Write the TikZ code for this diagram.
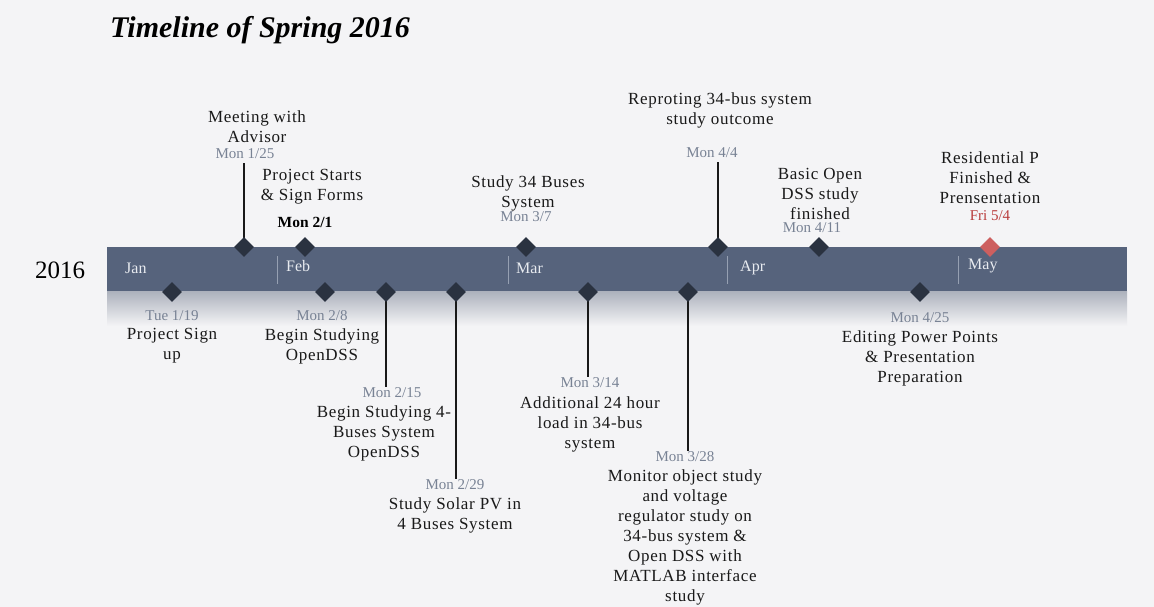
\documentclass[tikz,border=0pt]{standalone}
\usepackage{fontspec}
\setmainfont{Liberation Serif}
\newfontfamily\lblfont[LetterSpace=4]{Liberation Serif}
\usetikzlibrary{shapes.geometric}
\definecolor{bg}{RGB}{244,244,246}
\definecolor{barc}{RGB}{86,99,124}
\definecolor{shad}{RGB}{172,177,188}
\definecolor{dia}{RGB}{42,50,64}
\definecolor{datec}{RGB}{120,130,148}
\definecolor{txt}{RGB}{25,25,25}
\definecolor{redd}{RGB}{205,95,95}
\definecolor{redt}{RGB}{185,60,60}
\definecolor{monc}{RGB}{232,235,240}
\definecolor{sepc}{RGB}{150,160,178}
\begin{document}
\begin{tikzpicture}[x=1pt,y=-1pt,
 lbl/.style={align=center,font=\lblfont\fontsize{17}{20}\selectfont,text=txt,inner sep=0pt},
 dt/.style={font=\fontsize{15}{18}\selectfont,text=datec,inner sep=1pt},
 mk/.style={diamond,fill=dia,minimum width=20pt,minimum height=20pt,inner sep=0pt},
 conn/.style={draw=txt,line width=1.8pt},
 mon/.style={font=\fontsize{16}{19}\selectfont,text=monc,anchor=west,inner sep=0pt},
 msep/.style={draw=sepc,line width=0.8pt}]
\fill[bg] (0,0) rectangle (1154,607);
\useasboundingbox (0,0) rectangle (1154,607);

\node[font=\fontsize{30}{34}\selectfont\bfseries\itshape,anchor=west,text=black,inner sep=0pt] (title) at (110,30) {Timeline of Spring 2016};
\node[font=\fontsize{25}{30}\selectfont,text=black] (year) at (60,270) {2016};

% bar and shadow
\shade[top color=shad,bottom color=bg] (107,291) rectangle (1127,326);
\node[fill=barc,minimum width=1020pt,minimum height=44pt,inner sep=0pt] (bar) at (617,269) {};

% months
\node[mon] (jan) at (125,268) {Jan};
\node[mon] (feb) at (286,266) {Feb};
\node[mon] (mar) at (516,268) {Mar};
\node[mon] (apr) at (740,268) {Apr};
\node[mon] (may) at (968,266) {May};
\draw[msep] (277,256) -- (277,284);
\draw[msep] (508,256) -- (508,284);
\draw[msep] (727,256) -- (727,284);
\draw[msep] (958,256) -- (958,284);

% event positions
\coordinate (c125) at (244,247);
\coordinate (c201) at (305,247);
\coordinate (c307) at (526,247);
\coordinate (c404) at (718,247);
\coordinate (c411) at (819,247);
\coordinate (c504) at (990,247);
\coordinate (c119) at (172,292);
\coordinate (c208) at (325,292);
\coordinate (c215) at (386,292);
\coordinate (c229) at (456,292);
\coordinate (c314) at (588,292);
\coordinate (c328) at (688,292);
\coordinate (c425) at (920,292);

% upper labels
\node[lbl] (t125) at (257,127) {Meeting with\\Advisor};
\node[dt] (d125) at (245,154) {Mon 1/25};
\node[lbl] (t201) at (312,187) {Project Starts\\\& Sign Forms};
\node[dt,text=black,font=\fontsize{15.5}{18}\selectfont\bfseries] (d201) at (305,222) {Mon 2/1};
\node[lbl] (t307) at (528,193) {Study 34 Buses\\System};
\node[dt] (d307) at (526,217) {Mon 3/7};
\node[lbl] (t404) at (720,110) {Reproting 34-bus system\\study outcome};
\node[dt] (d404) at (712,153) {Mon 4/4};
\node[lbl] (t411) at (820,194) {Basic Open\\DSS study\\finished};
\node[dt] (d411) at (812,228) {Mon 4/11};
\node[lbl] (t504) at (990,178) {Residential P\\Finished \&\\Prensentation};
\node[dt,text=redt] (d504) at (990,216) {Fri 5/4};

% lower labels
\node[dt] (d119) at (172,316) {Tue 1/19};
\node[lbl] (t119) at (172,346) {Project Sign\\up};
\node[dt] (d208) at (322,316) {Mon 2/8};
\node[lbl] (t208) at (322,346) {Begin Studying\\OpenDSS};
\node[dt] (d215) at (392,393) {Mon 2/15};
\node[lbl] (t215) at (384,433) {Begin Studying 4-\\Buses System\\OpenDSS};
\node[dt] (d229) at (455,485) {Mon 2/29};
\node[lbl] (t229) at (455,515) {Study Solar PV in\\4 Buses System};
\node[dt] (d314) at (590,383) {Mon 3/14};
\node[lbl] (t314) at (590,424) {Additional 24 hour\\load in 34-bus\\system};
\node[dt] (d328) at (685,457) {Mon 3/28};
\node[lbl] (t328) at (685,537) {Monitor object study\\and voltage\\regulator study on\\34-bus system \&\\Open DSS with\\MATLAB interface\\study};
\node[dt] (d425) at (920,318) {Mon 4/25};
\node[lbl] (t425) at (920,358) {Editing Power Points\\\& Presentation\\Preparation};

% connectors
\draw[conn,shorten >=3pt] (c125) -- (c125 |- d125.south);
\draw[conn,shorten >=3pt] (c404) -- (c404 |- d404.south);
\draw[conn] (c215) -- (c215 |- d215.north);
\draw[conn] (c229) -- (c229 |- d229.north);
\draw[conn] (c314) -- (c314 |- d314.north);
\draw[conn] (c328) -- (c328 |- d328.north);

% markers
\node[mk] (k125) at (c125) {};
\node[mk] (k201) at (c201) {};
\node[mk] (k307) at (c307) {};
\node[mk] (k404) at (c404) {};
\node[mk] (k411) at (c411) {};
\node[mk,fill=redd] (k504) at (c504) {};
\node[mk] (k119) at (c119) {};
\node[mk] (k208) at (c208) {};
\node[mk] (k215) at (c215) {};
\node[mk] (k229) at (c229) {};
\node[mk] (k314) at (c314) {};
\node[mk] (k328) at (c328) {};
\node[mk] (k425) at (c425) {};
\end{tikzpicture}
\end{document}
